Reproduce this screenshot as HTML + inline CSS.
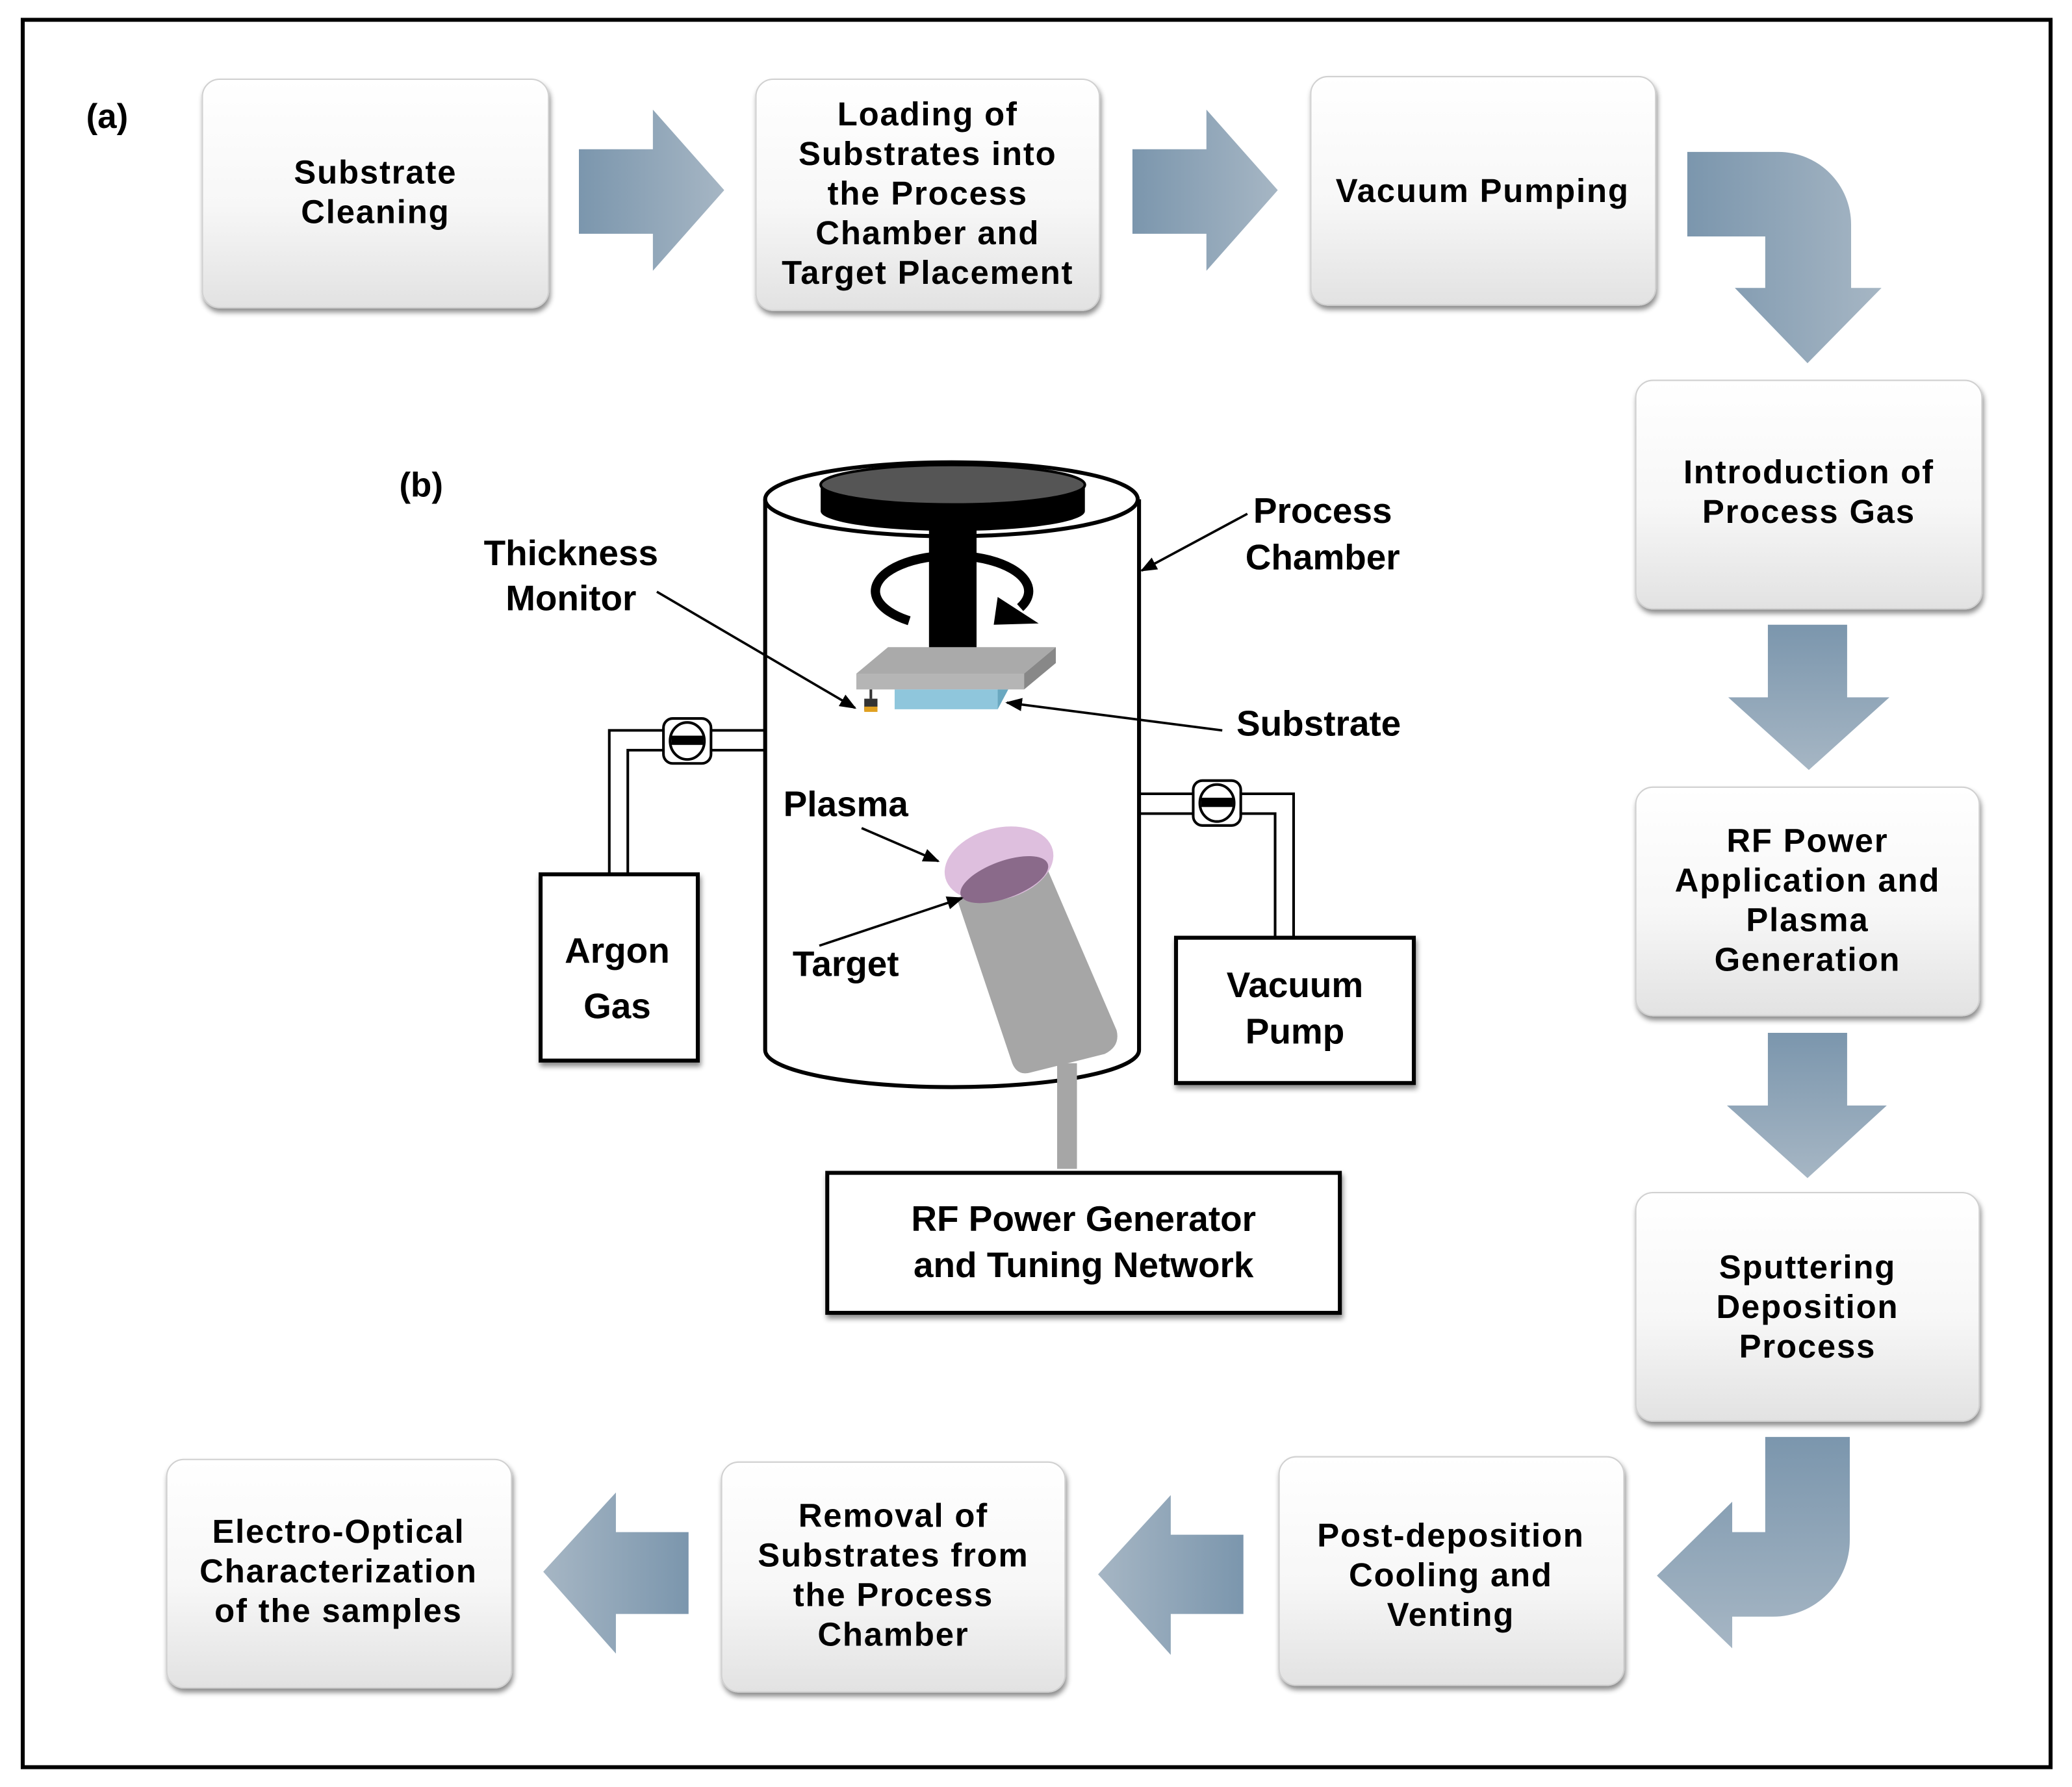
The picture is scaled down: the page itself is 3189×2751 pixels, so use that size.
<!DOCTYPE html>
<html><head><meta charset="utf-8"><style>
html,body{margin:0;padding:0;background:#fff}
svg{display:block}
text{font-family:"Liberation Sans",Arial,sans-serif;font-weight:bold;fill:#000}
.bt text{letter-spacing:0.9px}
</style></head><body>
<svg width="3189" height="2751" viewBox="0 0 1568 1353" xmlns="http://www.w3.org/2000/svg">
<defs>
<linearGradient id="bx" x1="0" y1="0" x2="0" y2="1"><stop offset="0" stop-color="#ffffff"/><stop offset="0.55" stop-color="#f7f7f7"/><stop offset="1" stop-color="#e2e2e2"/></linearGradient>
<linearGradient id="ah" x1="0" y1="0" x2="1" y2="0"><stop offset="0" stop-color="#7b96ad"/><stop offset="1" stop-color="#a6b6c4"/></linearGradient>
<linearGradient id="av" x1="0" y1="0" x2="0" y2="1"><stop offset="0" stop-color="#7b96ad"/><stop offset="1" stop-color="#a6b6c4"/></linearGradient>
<linearGradient id="al" x1="1" y1="0" x2="0" y2="0"><stop offset="0" stop-color="#7b96ad"/><stop offset="1" stop-color="#a6b6c4"/></linearGradient>
<filter id="sh" x="-10%" y="-10%" width="120%" height="130%"><feDropShadow dx="1" dy="3" stdDeviation="2" flood-color="#000" flood-opacity="0.45"/></filter>
<marker id="m" viewBox="0 0 10 10" refX="9" refY="5" markerWidth="7" markerHeight="7" orient="auto"><path d="M0,1 L10,5 L0,9 z" fill="#000"/></marker>
</defs>
<rect x="17" y="15" width="1535" height="1323" fill="#fff" stroke="#000" stroke-width="3"/>
<text x="65" y="97" font-size="26">(a)</text>
<text x="302" y="376" font-size="26">(b)</text>

<g filter="url(#sh)" fill="url(#bx)" stroke="#d0d0d0" stroke-width="1">
<rect x="153" y="60" width="262" height="173" rx="13"/>
<rect x="572" y="60" width="260" height="175" rx="13"/>
<rect x="992" y="58" width="261" height="173" rx="13"/>
<rect x="1238" y="288" width="262" height="173" rx="13"/>
<rect x="1238" y="596" width="260" height="173" rx="13"/>
<rect x="1238" y="903" width="260" height="173" rx="13"/>
<rect x="126" y="1105" width="261" height="173" rx="13"/>
<rect x="546" y="1107" width="260" height="174" rx="13"/>
<rect x="968" y="1103" width="261" height="173" rx="13"/>
</g>
<g class="bt" font-size="25" text-anchor="middle">
<text x="284" y="139">Substrate</text><text x="284" y="169">Cleaning</text>
<text x="702" y="95">Loading of</text><text x="702" y="125">Substrates into</text><text x="702" y="155">the Process</text><text x="702" y="185">Chamber and</text><text x="702" y="215">Target Placement</text>
<text x="1122" y="153">Vacuum Pumping</text>
<text x="1369" y="366">Introduction of</text><text x="1369" y="396">Process Gas</text>
<text x="1368" y="645">RF Power</text><text x="1368" y="675">Application and</text><text x="1368" y="705">Plasma</text><text x="1368" y="735">Generation</text>
<text x="1368" y="968">Sputtering</text><text x="1368" y="998">Deposition</text><text x="1368" y="1028">Process</text>
<text x="256" y="1168">Electro-Optical</text><text x="256" y="1198">Characterization</text><text x="256" y="1228">of the samples</text>
<text x="676" y="1156">Removal of</text><text x="676" y="1186">Substrates from</text><text x="676" y="1216">the Process</text><text x="676" y="1246">Chamber</text>
<text x="1098" y="1171">Post-deposition</text><text x="1098" y="1201">Cooling and</text><text x="1098" y="1231">Venting</text>
</g>

<path d="M438,113 H494 V83 L548,144 L494,205 V177 H438 Z" fill="url(#ah)"/>
<path d="M857,113 H913 V83 L967,144 L913,205 V177 H857 Z" fill="url(#ah)"/>
<path d="M1277,115 H1346 A55,55 0 0 1 1401,170 V218 H1424 L1368,275 L1313,218 H1336 V179 H1277 Z" fill="url(#ah)"/>
<path d="M1338,473 H1398 V528 H1430 L1369,583 L1308,528 H1338 Z" fill="url(#av)"/>
<path d="M1338,782 H1398 V837 H1428 L1368,892 L1307,837 H1338 Z" fill="url(#av)"/>
<path d="M1336,1088 H1400 V1166 A58,58 0 0 1 1342,1224 H1311 V1248 L1254,1193 L1311,1137 V1160 H1336 Z" fill="url(#av)"/>
<path d="M941,1162 H886 V1132 L831,1192 L886,1253 V1222 H941 Z" fill="url(#al)"/>
<path d="M521,1160 H466 V1130 L411,1190 L466,1252 V1222 H521 Z" fill="url(#al)"/>

<path d="M579,378 V795 A141,28 0 0 0 862,795 V378" fill="#fff" stroke="#000" stroke-width="3"/>
<ellipse cx="720" cy="378" rx="141" ry="28" fill="#fff" stroke="#000" stroke-width="3"/>
<path d="M621,367 V387 A100,15 0 0 0 821,387 V367 Z" fill="#000"/>
<ellipse cx="721" cy="367" rx="100" ry="15" fill="#555" stroke="#000" stroke-width="2"/>
<path d="M688,470 A58,27 0 1 1 772,460" fill="none" stroke="#000" stroke-width="7"/>
<path d="M755,452 L786,472 L752,473 Z" fill="#000"/>
<rect x="703" y="395" width="36" height="100" fill="#000"/>
<path d="M648,510 L672,490 L799,490 L775,510 Z" fill="#aaa"/>
<path d="M648,510 H775 V522 H648 Z" fill="#b5b5b5"/>
<path d="M775,510 L799,490 V502 L775,522 Z" fill="#888"/>
<rect x="677" y="522" width="78" height="15" fill="#8fc6dc"/>
<path d="M755,522 L763,522 L755,537 Z" fill="#6aa8c0"/>
<rect x="654" y="529" width="10" height="9" fill="#333"/><rect x="654" y="535" width="10" height="4" fill="#e0a020"/><rect x="658" y="522" width="2" height="7" fill="#333"/>
<path d="M724,680 L790,652 L845,780 Q848,792 836,798 L780,812 Q770,815 766,805 Z" fill="#a6a6a6"/>
<rect x="800" y="805" width="15" height="80" fill="#a6a6a6"/>
<ellipse cx="756" cy="654" rx="42" ry="27" transform="rotate(-15 756 654)" fill="#dcbcdc" opacity="0.95"/>
<ellipse cx="760" cy="666" rx="35" ry="14" transform="rotate(-20 760 666)" fill="#8a6a8a"/>
<g fill="none" stroke="#000" stroke-width="2">
<path d="M579,553 H461 V662"/><path d="M579,568 H475 V662"/>
<path d="M862,601 H979 V710"/><path d="M862,616 H965 V710"/>
</g>
<g stroke="#000" stroke-width="2" fill="#fff">
<rect x="502" y="544" width="36" height="34" rx="7"/><ellipse cx="520" cy="561" rx="13" ry="14"/>
<rect x="903" y="591" width="36" height="34" rx="7"/><ellipse cx="921" cy="608" rx="13" ry="14"/>
</g>
<rect x="508" y="557" width="24" height="7" fill="#000"/><rect x="909" y="604" width="24" height="7" fill="#000"/>
<g fill="#fff" stroke="#000" stroke-width="3" filter="url(#sh)">
<rect x="409" y="662" width="119" height="141"/>
<rect x="890" y="710" width="180" height="110"/>
<rect x="626" y="888" width="388" height="106"/>
</g>
<g font-size="27" text-anchor="middle" font-weight="bold">
<text x="467" y="729">Argon</text><text x="467" y="771">Gas</text>
<text x="980" y="755">Vacuum</text><text x="980" y="790">Pump</text>
<text x="820" y="932">RF Power Generator</text><text x="820" y="967">and Tuning Network</text>
<text x="1001" y="396">Process</text><text x="1001" y="431">Chamber</text>
<text x="432" y="428">Thickness</text><text x="432" y="462">Monitor</text>
<text x="998" y="557">Substrate</text>
<text x="640" y="618">Plasma</text>
<text x="640" y="739">Target</text>
</g>
<g stroke="#000" stroke-width="1.8" fill="none" marker-end="url(#m)">
<line x1="944" y1="389" x2="864" y2="432"/>
<line x1="497" y1="448" x2="647" y2="536"/>
<line x1="925" y1="553" x2="762" y2="532"/>
<line x1="652" y1="627" x2="710" y2="652"/>
<line x1="620" y1="716" x2="728" y2="680"/>
</g>
</svg>
</body></html>
